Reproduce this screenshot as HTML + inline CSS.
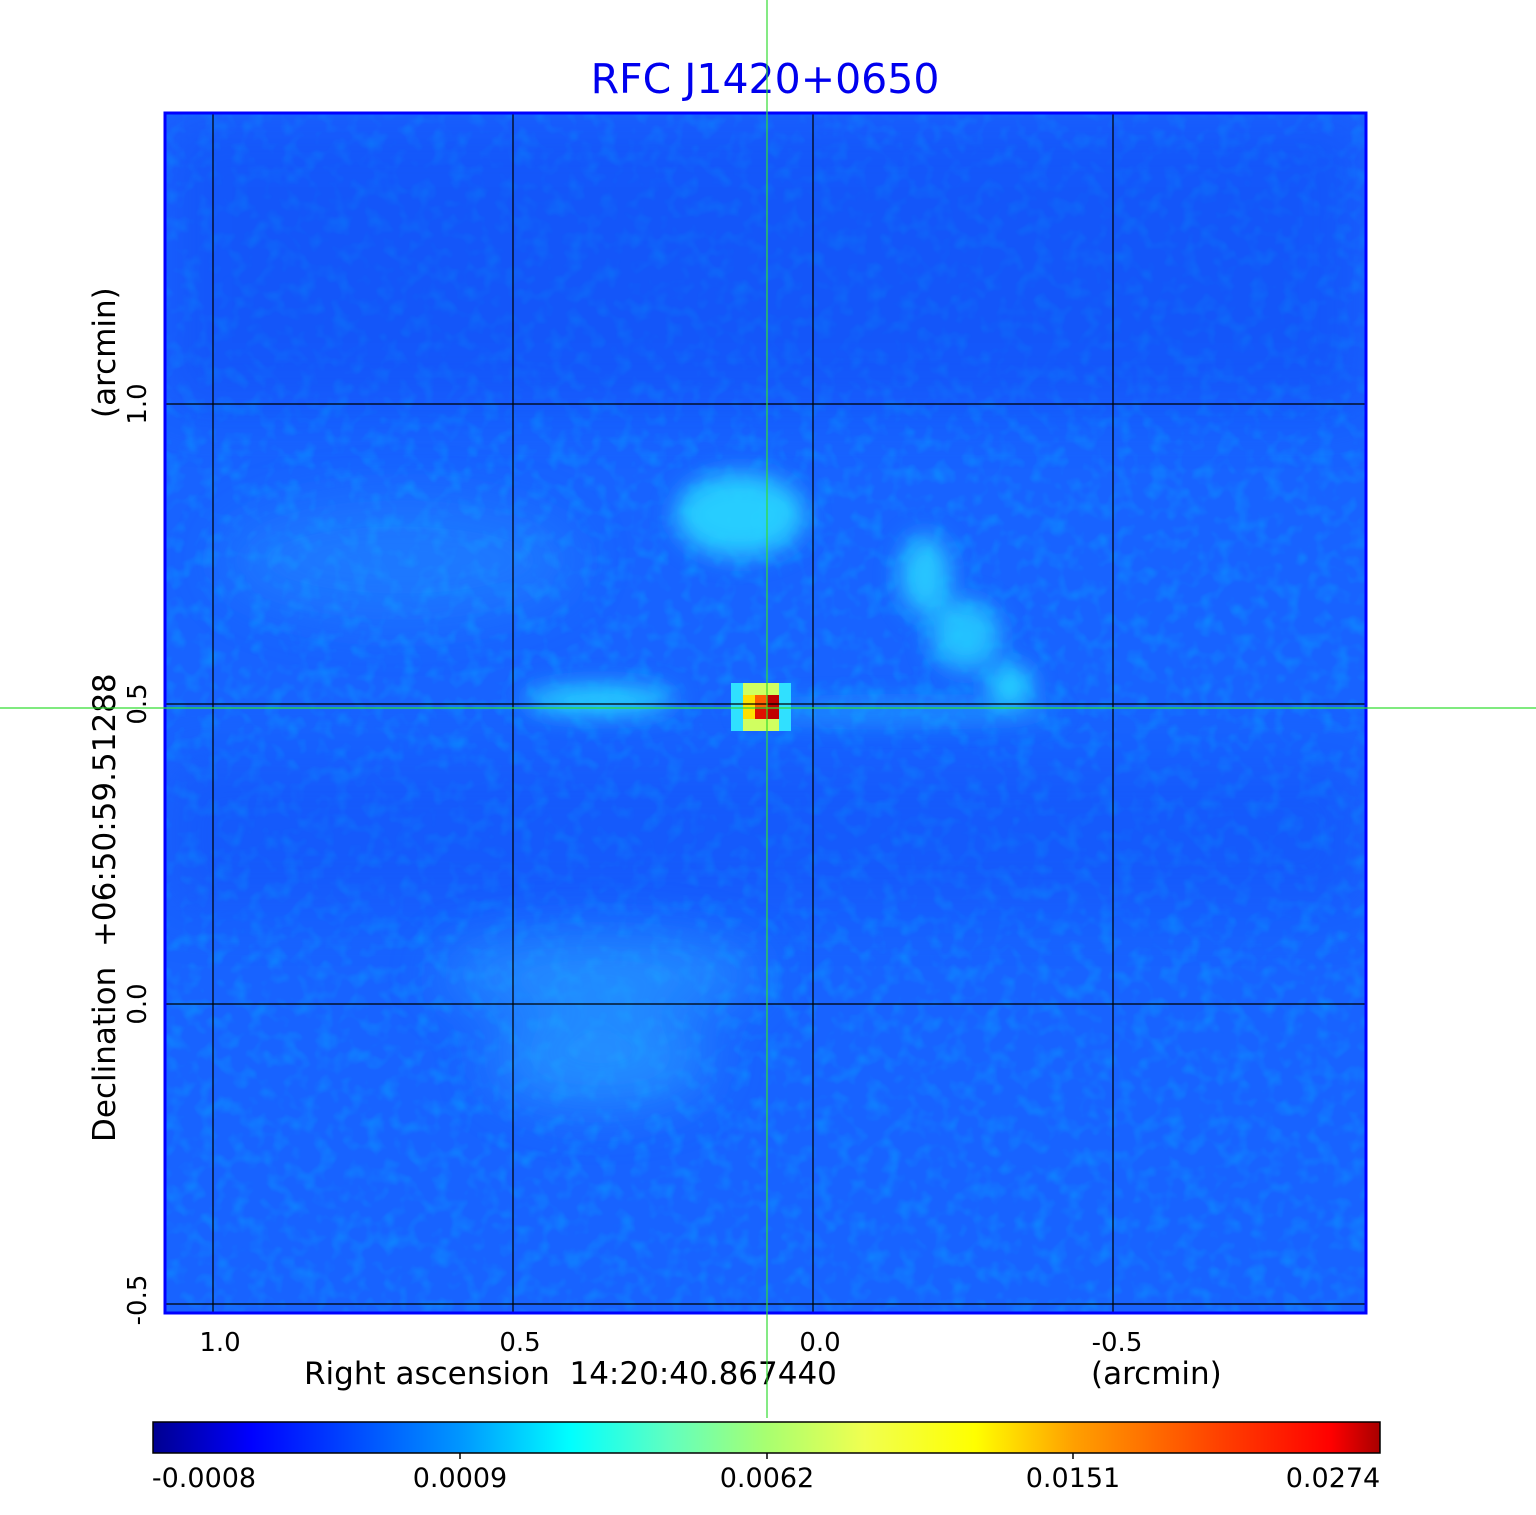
<!DOCTYPE html>
<html><head><meta charset="utf-8"><style>
body{margin:0;background:#fff;width:1536px;height:1511px;overflow:hidden;font-family:"DejaVu Sans","Liberation Sans",sans-serif}
</style></head><body>
<svg width="1536" height="1511" xmlns="http://www.w3.org/2000/svg" font-family="DejaVu Sans, Liberation Sans, sans-serif">
<defs>
<filter id="b1" x="-50%" y="-50%" width="200%" height="200%"><feGaussianBlur stdDeviation="12"/></filter>
<filter id="b2" x="-50%" y="-50%" width="200%" height="200%"><feGaussianBlur stdDeviation="28"/></filter>
<filter id="noise" x="0" y="0" width="100%" height="100%">
<feTurbulence type="fractalNoise" baseFrequency="0.06" numOctaves="2" seed="3" result="t"/>
<feColorMatrix type="matrix" values="0 0 0 0 0  0 0 0 0 0.5  0 0 0 0 1  0 0 0 2.2 -1.0"/>
</filter>
<linearGradient id="cb" x1="0" x2="1" y1="0" y2="0">
<stop offset="0" stop-color="#000090"/><stop offset="0.08" stop-color="#0000ff"/>
<stop offset="0.25" stop-color="#0096ff"/><stop offset="0.34" stop-color="#00ffff"/>
<stop offset="0.42" stop-color="#60ffc0"/><stop offset="0.5" stop-color="#a8ff70"/>
<stop offset="0.58" stop-color="#f0ff50"/><stop offset="0.67" stop-color="#ffff00"/>
<stop offset="0.75" stop-color="#ffa000"/><stop offset="0.87" stop-color="#ff4000"/>
<stop offset="0.96" stop-color="#ff0000"/><stop offset="1" stop-color="#a80000"/>
</linearGradient>
<clipPath id="pc"><rect x="165" y="113" width="1201" height="1200"/></clipPath>
</defs>
<text x="765" y="93" font-size="41" fill="#0000ee" text-anchor="middle">RFC J1420+0650</text>
<g clip-path="url(#pc)">
<rect x="165" y="113" width="1201" height="1200" fill="#1863ff"/>
<rect x="165" y="113" width="1201" height="1200" filter="url(#noise)" opacity="0.35"/>
<rect x="165" y="120" width="1201" height="290" fill="#0a40f0" opacity="0.35" filter="url(#b2)"/>
<rect x="165" y="760" width="1201" height="150" fill="#0a40f0" opacity="0.25" filter="url(#b2)"/>
<g filter="url(#b1)" fill="#28d8ff">
<ellipse cx="740" cy="515" rx="65" ry="42" opacity="0.9"/>
<ellipse cx="600" cy="700" rx="75" ry="14" opacity="1"/>
<ellipse cx="925" cy="575" rx="25" ry="40" opacity="0.85"/>
<ellipse cx="965" cy="635" rx="35" ry="35" opacity="0.8"/>
<ellipse cx="1010" cy="685" rx="22" ry="20" opacity="1"/>
<ellipse cx="900" cy="712" rx="160" ry="10" opacity="0.45"/>
</g>
<g filter="url(#b2)" fill="#2aa8ff" opacity="0.65">
<ellipse cx="600" cy="975" rx="160" ry="35"/>
<ellipse cx="600" cy="1060" rx="110" ry="45"/>
<ellipse cx="400" cy="560" rx="180" ry="60" opacity="0.5"/>
</g>
<g>
<rect x="731" y="683" width="60" height="48" fill="#30e0ff"/>
<rect x="743" y="683" width="36" height="48" fill="#d0ff60"/>
<rect x="743" y="695" width="36" height="24" fill="#ffe000"/>
<rect x="755" y="695" width="24" height="24" fill="#ff6000"/>
<rect x="755" y="707" width="12" height="12" fill="#e01000"/>
<rect x="767" y="695" width="12" height="24" fill="#c00000"/>
</g>
<g stroke="#000" stroke-width="1.2">
<line x1="213" y1="113" x2="213" y2="1313"/><line x1="513" y1="113" x2="513" y2="1313"/>
<line x1="813" y1="113" x2="813" y2="1313"/><line x1="1113" y1="113" x2="1113" y2="1313"/>
<line x1="165" y1="404" x2="1366" y2="404"/><line x1="165" y1="704" x2="1366" y2="704"/>
<line x1="165" y1="1004" x2="1366" y2="1004"/><line x1="165" y1="1304" x2="1366" y2="1304"/>
</g>
</g>
<rect x="165" y="113" width="1201" height="1200" fill="none" stroke="#0000ff" stroke-width="3"/>
<g font-size="26" fill="#000" text-anchor="middle">
<text x="220" y="1351">1.0</text><text x="520" y="1351">0.5</text>
<text x="820" y="1351">0.0</text><text x="1117" y="1351">-0.5</text>
<text transform="translate(146,404) rotate(-90)">1.0</text>
<text transform="translate(146,704) rotate(-90)">0.5</text>
<text transform="translate(146,1004) rotate(-90)">0.0</text>
<text transform="translate(146,1300) rotate(-90)">-0.5</text>
</g>
<g font-size="31" fill="#000">
<text x="304" y="1384" xml:space="preserve">Right ascension  14:20:40.867440</text>
<text x="1091" y="1384">(arcmin)</text>
<text transform="translate(115,1142) rotate(-90)" xml:space="preserve">Declination  +06:50:59.51288</text>
<text transform="translate(115,418) rotate(-90)">(arcmin)</text>
</g>
<rect x="153" y="1422" width="1227" height="31" fill="url(#cb)" stroke="#000" stroke-width="1.5"/>
<g stroke="#000" stroke-width="1.5">
<line x1="460" y1="1453" x2="460" y2="1459"/><line x1="767" y1="1453" x2="767" y2="1459"/><line x1="1073" y1="1453" x2="1073" y2="1459"/>
</g>
<g font-size="27" fill="#000" text-anchor="middle">
<text x="204" y="1487">-0.0008</text><text x="460" y="1487">0.0009</text>
<text x="767" y="1487">0.0062</text><text x="1073" y="1487">0.0151</text><text x="1333" y="1487">0.0274</text>
</g>
<line x1="767" y1="0" x2="767" y2="1418" stroke="#33dd33" stroke-width="1.2"/>
<line x1="0" y1="708" x2="1536" y2="708" stroke="#33dd33" stroke-width="1.2"/>
</svg>
</body></html>
